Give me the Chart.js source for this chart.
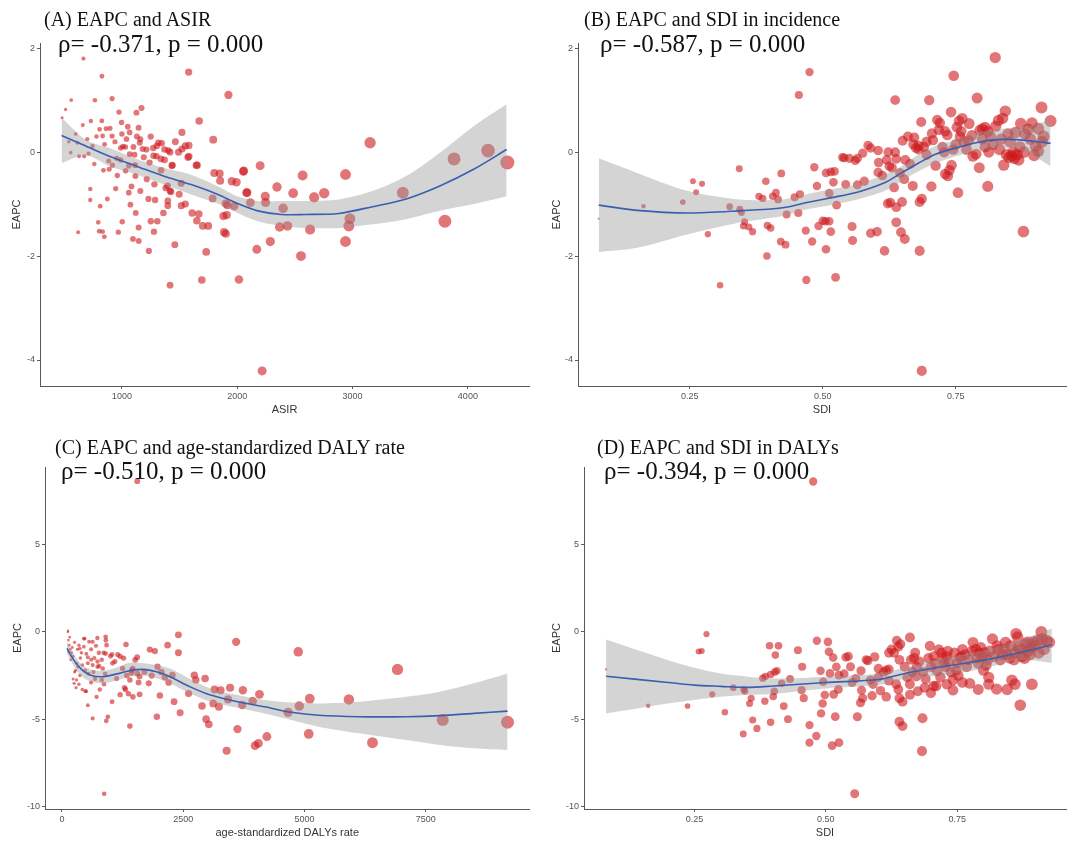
<!DOCTYPE html>
<html>
<head>
<meta charset="utf-8">
<script src="https://cdn.jsdelivr.net/npm/chart.js@4.4.1/dist/chart.umd.min.js"></script>
<style>
  body { margin: 0; background: #fff; }
  #wrap { position: relative; width: 1072px; height: 841px; overflow: hidden; background: #fff; }
  canvas { position: absolute; }
  .ttl { position: absolute; font-family: "Liberation Serif", "Times New Roman", serif; color: #111; line-height: 1; white-space: nowrap; }
  .t1 { font-size: 20px; }
  .t2 { font-size: 25px; }
</style>
</head>
<body>
<div id="wrap">
  <canvas id="chartA" width="536" height="420" style="left:0;top:0"></canvas>
  <canvas id="chartB" width="536" height="420" style="left:536px;top:0"></canvas>
  <canvas id="chartC" width="536" height="421" style="left:0;top:420px"></canvas>
  <canvas id="chartD" width="536" height="421" style="left:536px;top:420px"></canvas>

  <div class="ttl t1" style="left:44px;top:9px">(A) EAPC and ASIR</div>
  <div class="ttl t2" style="left:58px;top:31px">ρ= -0.371, p = 0.000</div>
  <div class="ttl t1" style="left:584px;top:9px">(B) EAPC and SDI in incidence</div>
  <div class="ttl t2" style="left:600px;top:31px">ρ= -0.587, p = 0.000</div>
  <div class="ttl t1" style="left:55px;top:437px">(C) EAPC and age-standardized DALY rate</div>
  <div class="ttl t2" style="left:61px;top:458px">ρ= -0.510, p = 0.000</div>
  <div class="ttl t1" style="left:597px;top:437px">(D) EAPC and SDI in DALYs</div>
  <div class="ttl t2" style="left:604px;top:458px">ρ= -0.394, p = 0.000</div>
</div>

<script>
// ---- (A) EAPC vs ASIR ----
const asirX = [667,827,1579,561,766,915,1924,512,1170,975,1126,1670,731,661,826,997,1051,897,863,807,
  1145,1521,1067,1160,1180,1009,990,1030,1302,1345,1402,1464,1521,1581,1792,1316,1272,1213,1155,3152,
  4175,4342,3880,2939,2567,2199,2053,1801,1852,1848,1994,1953,1646,1573,1550,1491,1418,1433,1274,1300,
  1339,1370,1438,1581,1652,1068,1110,955,990,1060,1115,886,918,890,761,840,1032,1117,1216,1282,
  1396,1425,1515,1497,1380,1418,2057,2085,2114,726,726,874,812,946,1083,1060,1074,1288,1398,1398,
  1515,1550,1609,1667,1650,1701,1749,1787,1909,1880,1901,1915,1974,1886,1901,621,795,803,833,848,
  969,1003,1120,1145,1096,1146,1251,1278,1234,1307,1459,1418,1731,1693,2015,2082,2170,2243,2246,2287,
  2216,2345,2398,2368,2436,2485,2553,2632,2667,2754,2977,2968,2939,3436,3801,482,556,614,629,673,
  711,746,833,915,1360,780,850,940,1000,1040,1100,1130,1190,1240,1250,1340,1370,960,1160,1230,
  700,600,540];
const asirEapc = [1.80,1.46,1.54,1.00,1.00,1.03,1.10,0.82,0.85,0.77,0.76,0.60,0.60,0.52,0.60,0.57,0.49,0.46,0.45,0.44,
  0.47,0.38,0.38,0.25,0.06,0.11,0.08,0.10,0.12,0.17,0.03,0.20,0.06,0.13,0.24,0.18,0.08,0.05,0.18,0.18,
  0.03,-0.20,-0.13,-0.43,-0.45,-0.26,-0.37,-0.40,-0.55,-0.41,-0.58,-0.56,-0.25,-0.10,0.12,0.00,0.00,-0.26,-0.07,-0.08,
  -0.13,-0.15,-0.25,-0.08,-0.25,-0.04,-0.05,-0.12,-0.15,-0.26,-0.25,-0.17,-0.25,-0.33,-0.23,-0.35,-0.36,-0.46,-0.52,-0.62,
  -0.65,-0.76,-0.60,-0.81,-0.69,-0.75,-0.36,-0.78,-0.97,-0.71,-0.92,-0.90,-1.04,-0.70,-0.66,-0.78,-1.01,-0.92,-0.94,-1.03,
  -1.03,-1.00,-1.17,-1.19,-1.32,-1.42,-1.42,-0.89,-1.21,-1.23,-0.99,-1.02,-1.04,-1.54,-1.57,-1.54,-1.35,-1.52,-1.53,-1.63,
  -1.54,-1.34,-1.17,-1.45,-1.67,-1.71,-1.33,-1.53,-1.90,-1.33,-1.78,-2.56,-1.92,-2.46,-2.45,-0.78,-1.87,-0.85,-0.97,-1.72,
  -4.21,-0.67,-1.08,-1.44,-1.42,-0.79,-2.00,-1.49,-0.87,-0.79,-1.28,-1.42,-1.72,-0.78,-1.33,0.66,-0.01,0.18,-0.08,-0.08,
  -0.03,0.12,0.31,0.31,-1.17,0.30,0.15,0.20,0.35,0.25,0.10,0.30,-0.10,-0.20,0.30,-0.35,0.05,-0.45,-0.75,-0.90,
  0.25,0.35,0.20];
const asirFitX = [477,687,892,1126,1360,1594,1827,2003,2178,2383,2588,2880,3173,3465,3757,4050,4336];
const asirFit  = [0.32,0.12,-0.08,-0.27,-0.46,-0.62,-0.81,-0.99,-1.13,-1.20,-1.20,-1.18,-1.05,-0.90,-0.65,-0.33,0.05];
const asirLow  = [-0.21,-0.06,-0.27,-0.43,-0.62,-0.81,-0.99,-1.17,-1.33,-1.42,-1.46,-1.46,-1.39,-1.29,-1.13,-1.00,-0.85];
const asirHigh = [0.66,0.24,0.08,-0.13,-0.30,-0.43,-0.65,-0.85,-0.94,-0.94,-0.94,-0.91,-0.75,-0.46,-0.01,0.50,0.92];

// ---- (B) EAPC vs SDI, incidence ----
const sdiIncX = [0.079,0.163,0.237,0.256,0.262,0.273,0.284,0.307,0.325,0.343,0.344,0.347,0.353,0.351,0.361,0.368,0.380,0.387,0.393,0.396,
  0.402,0.395,0.406,0.412,0.416,0.422,0.421,0.430,0.432,0.447,0.457,0.455,0.454,0.468,0.469,0.475,0.480,0.484,0.489,0.492,
  0.500,0.505,0.512,0.506,0.506,0.515,0.522,0.512,0.515,0.520,0.524,0.526,0.537,0.543,0.540,0.555,0.556,0.561,0.565,0.565,
  0.578,0.585,0.590,0.604,0.605,0.604,0.602,0.616,0.622,0.627,0.623,0.625,0.630,0.636,0.638,0.638,0.634,0.638,0.647,0.654,
  0.649,0.650,0.653,0.636,0.664,0.669,0.670,0.675,0.680,0.685,0.682,0.686,0.682,0.686,0.690,0.695,0.700,0.704,0.707,0.712,
  0.718,0.720,0.728,0.730,0.735,0.734,0.741,0.742,0.746,0.750,0.754,0.756,0.760,0.765,0.770,0.774,0.782,0.788,0.790,0.794,
  0.800,0.805,0.810,0.810,0.812,0.820,0.824,0.830,0.835,0.840,0.843,0.845,0.850,0.855,0.860,0.862,0.865,0.870,0.877,0.880,
  0.886,0.893,0.900,0.905,0.911,0.915,0.928,
  0.660,0.672,0.680,0.695,0.705,0.715,0.725,0.730,0.738,0.745,0.752,0.758,0.762,0.775,0.780,0.795,0.800,0.805,0.815,0.825,
  0.832,0.838,0.848,0.852,0.858,0.868,0.872,0.878,0.890,0.897,0.905,0.912,0.620,0.612,0.645,0.655,0.590,0.575,0.550];
const sdiIncEapc = [-1.28,-1.04,-0.96,-0.56,-0.77,-0.61,-1.58,-2.56,-1.05,-0.32,-1.10,-1.16,-1.34,-1.42,-1.44,-1.53,-0.85,-0.89,-0.56,-1.41,
  -1.46,-2.00,-0.85,-0.78,-0.91,-0.41,-1.72,-1.78,-1.20,-0.87,-0.81,1.10,-1.17,-1.51,-2.46,1.54,-1.72,-0.29,-0.65,-1.42,
  -1.32,-1.33,-1.33,-1.87,-0.40,-0.38,-0.37,-0.79,-1.53,-0.58,-2.41,-1.02,-0.10,-0.62,-0.11,-1.43,-1.70,-0.16,-0.12,-0.63,
  -0.56,0.13,-1.56,-0.39,-0.20,0.03,-1.53,-1.90,-0.99,-0.97,0.00,-0.27,-0.30,0.00,-0.13,-1.06,-0.68,-1.35,-1.54,-1.67,
  -0.96,0.22,-0.52,1.00,-0.23,-0.65,0.15,0.08,0.12,0.58,-0.96,-0.90,-1.90,-4.21,0.10,0.20,1.00,-0.66,0.23,-0.26,
  0.43,0.56,0.00,-0.42,-0.46,0.33,0.77,-0.25,1.47,0.15,-0.78,0.60,0.40,0.20,0.05,0.22,-0.08,-0.04,1.04,-0.30,
  0.45,0.48,0.40,-0.66,0.00,0.15,1.82,0.61,0.25,-0.25,0.79,-0.05,-0.10,-0.07,-0.12,0.38,-0.05,0.10,-1.53,0.35,
  0.44,0.56,0.11,0.02,0.86,0.30,0.60,
  0.30,0.28,0.05,-0.05,0.36,0.62,0.10,0.40,-0.35,0.05,0.48,0.30,0.65,0.55,0.32,0.42,0.25,0.10,0.30,0.50,
  0.05,0.65,0.35,0.20,0.00,-0.15,0.55,0.00,0.25,-0.06,0.45,0.20,-0.15,-0.45,-0.40,-0.15,0.08,-0.02,-0.12];
const sdiIncFitX = [0.079,0.151,0.247,0.342,0.425,0.470,0.514,0.565,0.616,0.648,0.680,0.712,0.750,0.788,0.826,0.865,0.896,0.928];
const sdiIncFit  = [-1.02,-1.12,-1.17,-1.13,-1.07,-0.97,-0.88,-0.77,-0.59,-0.40,-0.21,-0.04,0.08,0.18,0.24,0.24,0.21,0.17];
const sdiIncLow  = [-1.92,-1.84,-1.58,-1.36,-1.23,-1.10,-1.02,-0.91,-0.75,-0.56,-0.37,-0.21,-0.08,0.02,0.08,0.05,-0.08,-0.27];
const sdiIncHigh = [-0.12,-0.40,-0.75,-0.91,-0.91,-0.81,-0.72,-0.62,-0.43,-0.27,-0.04,0.12,0.24,0.37,0.44,0.47,0.53,0.63];

// ---- (C) EAPC vs age-standardized DALYs rate ----
const dalyX = [1552,870,125,120,133,150,170,140,200,230,180,300,330,280,370,300,250,290,450,467,
  560,633,730,905,400,500,533,600,667,350,370,450,533,633,733,840,733,767,480,500,
  533,633,913,947,713,780,820,867,1033,890,900,860,900,920,1000,1030,1090,1044,1127,1200,
  1270,1320,1440,1460,1430,1333,1400,1290,1310,1200,1370,1400,1462,1510,1550,1552,1601,1580,1600,1789,
  1810,1914,1970,2050,1956,2018,2123,2178,2311,2276,2401,2401,2436,2610,2728,2760,2888,2951,2972,3028,
  3118,3146,3236,3271,3396,3424,3466,3591,3619,3716,3730,3932,3981,4051,4072,4225,4663,4872,4893,5088,
  5109,5916,6403,6918,7851,9187,
  160,210,260,320,380,420,480,550,600,650,700,760,820,230,260,350,420,600,680,1150,1250,1700,1850,2200];
const dalyEapc = [8.64,-9.28,0.06,0.00,-0.47,-0.76,-1.00,-1.14,-1.20,-1.40,-1.60,-1.80,-2.00,-2.20,-2.50,-2.75,-2.95,-3.20,-0.38,-0.38,
  -0.57,-0.57,-0.35,-0.48,-1.20,-1.25,-1.45,-1.60,-1.50,-0.76,-0.95,-0.85,-1.80,-1.90,-1.70,-2.10,-2.00,-1.95,-3.40,-3.40,
  -4.20,-4.96,-5.10,-4.87,-3.72,-3.30,-2.76,-3.00,-4.00,-2.40,-1.24,-1.20,-0.28,-0.76,-1.40,-1.30,-1.70,-1.80,-2.67,-1.40,
  -1.50,-0.72,-2.20,-2.10,-2.35,-2.50,-2.76,-3.20,-3.30,-3.60,-3.55,-5.40,-3.72,-1.60,-1.45,-2.38,-3.58,-2.90,-2.55,-2.95,
  -1.01,-1.10,-2.00,-2.30,-4.86,-3.64,-2.60,-0.76,-4.00,-2.48,-0.17,-1.20,-4.63,-3.53,-2.48,-2.75,-4.25,-2.67,-5.00,-5.30,
  -4.10,-3.30,-4.29,-3.34,-6.81,-3.87,-3.20,-0.57,-5.57,-4.19,-3.34,-3.96,-6.52,-6.39,-3.58,-6.00,-4.61,-1.14,-4.25,-5.85,
  -3.83,-3.87,-6.35,-2.15,-5.05,-5.18,
  -0.30,-0.90,-0.60,-1.00,-1.50,-1.90,-2.20,-2.40,-1.00,-2.30,-0.80,-1.20,-1.60,-2.70,-2.30,-3.00,-3.30,-2.90,-2.70,-1.30,-2.10,-2.30,-2.50,-2.90];
const dalyFitX = [104,244,418,592,835,1114,1392,1670,1949,2227,2645,3062,3619,4176,4733,5290,6125,7099,7795,8491,9187];
const dalyFit  = [-0.95,-1.62,-2.19,-2.48,-2.57,-2.42,-2.23,-2.15,-2.29,-2.57,-3.15,-3.62,-4.00,-4.29,-4.61,-4.78,-4.86,-4.86,-4.80,-4.67,-4.54];
const dalyLow  = [-1.24,-1.95,-2.57,-2.85,-2.95,-2.80,-2.57,-2.50,-2.65,-2.95,-3.55,-4.00,-4.35,-4.67,-5.05,-5.43,-5.81,-6.20,-6.48,-6.67,-6.77];
const dalyHigh = [-0.55,-1.30,-1.90,-2.15,-2.23,-2.05,-1.77,-1.80,-1.90,-2.10,-2.70,-3.24,-3.62,-3.90,-4.05,-4.10,-4.00,-3.72,-3.43,-2.95,-2.38];

// ---- (D) EAPC vs SDI, DALYs ----
const sdiDalyX = [0.476,0.555,0.082,0.162,0.237,0.258,0.264,0.273,0.284,0.308,0.324,0.344,0.346,0.343,0.355,0.358,0.361,0.369,0.380,0.385,
  0.384,0.393,0.395,0.395,0.400,0.402,0.403,0.404,0.407,0.410,0.416,0.420,0.428,0.432,0.447,0.455,0.458,0.454,0.469,0.469,
  0.482,0.483,0.490,0.491,0.495,0.494,0.498,0.504,0.506,0.508,0.512,0.514,0.515,0.518,0.525,0.525,0.524,0.538,0.543,0.547,
  0.557,0.560,0.566,0.567,0.568,0.577,0.580,0.585,0.588,0.593,0.600,0.604,0.610,0.615,0.620,0.615,0.620,0.625,0.630,0.635,
  0.638,0.642,0.634,0.638,0.640,0.646,0.640,0.646,0.660,0.662,0.668,0.665,0.672,0.673,0.675,0.688,0.683,0.684,0.698,0.705,
  0.708,0.712,0.705,0.710,0.720,0.725,0.730,0.735,0.742,0.742,0.748,0.755,0.760,0.765,0.774,0.780,0.785,0.792,0.798,0.790,
  0.800,0.805,0.810,0.817,0.825,0.828,0.836,0.842,0.850,0.854,0.860,0.862,0.866,0.870,0.873,0.880,0.885,0.890,0.895,0.903,
  0.910,0.920,0.915,
  0.640,0.650,0.655,0.660,0.670,0.678,0.685,0.690,0.695,0.700,0.715,0.718,0.722,0.728,0.732,0.738,0.745,0.750,0.752,0.758,
  0.768,0.772,0.778,0.788,0.795,0.802,0.808,0.812,0.820,0.826,0.832,0.840,0.845,0.852,0.858,0.865,0.870,0.878,0.884,0.888,
  0.892,0.898,0.905,0.912,0.925,0.860,0.845,0.810,0.790,0.760,0.730,0.700,0.660,0.620,0.600,0.590,0.570,0.550,0.535,0.520];
const sdiDalyEapc = [8.62,-9.28,-2.15,-4.23,-4.25,-1.12,-1.10,-0.13,-3.58,-4.60,-3.20,-3.30,-3.40,-5.85,-4.10,-3.80,-5.05,-5.53,-2.65,-2.55,
  -3.97,-0.80,-2.44,-5.18,-3.70,-3.40,-2.30,-1.33,-2.23,-0.80,-2.95,-4.25,-5.00,-2.70,-1.05,-2.00,-3.80,-3.34,-5.34,-6.35,
  -5.97,-0.51,-2.23,-4.67,-2.86,-4.10,-3.62,-0.57,-1.14,-2.38,-6.52,-1.47,-3.58,-4.86,-6.35,-2.48,-3.30,-1.45,-1.40,-2.00,
  -2.67,-4.86,-4.06,-2.23,-3.34,-1.60,-1.65,-2.76,-3.66,-1.43,-2.10,-3.37,-2.30,-2.20,-2.15,-3.72,-1.20,-1.00,-1.20,-0.50,
  -0.85,-0.70,-3.00,-3.30,-3.80,-4.00,-5.15,-5.40,-0.32,-1.60,-1.50,-2.30,-2.55,-2.00,-3.40,-3.20,-6.83,-4.95,-0.80,-1.40,
  -1.80,-2.25,-3.10,-3.10,-1.20,-1.80,-1.40,-1.70,-2.75,-3.34,-2.20,-1.50,-1.00,-1.30,-2.95,-0.60,-1.00,-1.20,-1.40,-1.80,
  -2.20,-1.90,-2.60,-0.40,-3.28,-1.00,-1.30,-0.60,-1.50,-2.77,-1.20,-0.10,-0.90,-4.20,-1.40,-0.70,-1.10,-0.90,-0.60,-0.50,
  0.00,-0.50,-1.00,
  -1.60,-2.00,-2.60,-3.00,-1.20,-1.70,-2.30,-2.70,-1.50,-2.00,-1.00,-2.60,-1.50,-2.00,-1.10,-2.30,-1.20,-1.80,-2.50,-1.40,
  -2.00,-1.60,-1.10,-1.50,-0.90,-1.20,-1.60,-1.10,-1.40,-0.80,-1.60,-1.00,-1.30,-0.80,-1.60,-0.30,-1.00,-1.50,-0.60,-1.30,
  -3.00,-0.80,-1.20,-0.40,-0.60,-3.00,-3.30,-3.00,-3.30,-2.90,-3.00,-3.50,-3.60,-2.80,-2.60,-3.00,-3.80,-2.90,-2.40,-2.00];
const sdiDalyFitX = [0.082,0.20,0.25,0.30,0.35,0.40,0.50,0.60,0.65,0.72,0.80,0.87,0.93];
const sdiDalyFit  = [-2.54,-2.90,-3.05,-3.12,-3.18,-3.10,-2.90,-2.73,-2.38,-2.00,-1.62,-1.18,-0.74];
const sdiDalyLow  = [-4.67,-4.10,-3.90,-3.72,-3.62,-3.56,-3.24,-3.05,-2.70,-2.50,-2.10,-1.60,-1.77];
const sdiDalyHigh = [-0.44,-1.62,-2.05,-2.38,-2.55,-2.67,-2.57,-2.38,-2.05,-1.52,-1.05,-0.45,0.19];

// tick values
const asirTicks = [1000, 2000, 3000, 4000];
const sdiTicks = [0.25, 0.5, 0.75];
const dalyTicks = [0, 2500, 5000, 7500];
const eapcTicksTop = [-4, -2, 0, 2];
const eapcTicksBottom = [-10, -5, 0, 5];

// Función para juntar dos listas en puntos {x, y}
function toPoints(xs, ys) {
    return xs.map((x, i) => ({ x: x, y: ys[i] }));
}

// Tamaño del punto según el valor de x (como scale_size de ggplot)
function radiusFor(x, p) {
    let t = (x - p.sizeFrom) / (p.sizeTo - p.sizeFrom);
    t = Math.max(0, Math.min(1, t));
    return p.rMin + (p.rMax - p.rMin) * Math.pow(t, p.sizePow);
}

function makePanel(p) {
    const axisColor = '#5a5a5a';
    const tickFont = { family: '"Liberation Sans", Arial, sans-serif', size: 9 };
    const titleFont = { family: '"Liberation Sans", Arial, sans-serif', size: 11 };

    new Chart(document.getElementById(p.id), {
        type: 'scatter',
        data: {
            datasets: [
                {
                    data: toPoints(p.xs, p.ys),
                    backgroundColor: 'rgba(205, 25, 28, 0.6)',
                    borderWidth: 0,
                    pointRadius: ctx => radiusFor(ctx.raw.x, p),
                    order: 3
                },
                {
                    type: 'line',
                    data: toPoints(p.fitX, p.high),
                    borderWidth: 0,
                    pointRadius: 0,
                    tension: 0.3,
                    fill: '+1',
                    backgroundColor: 'rgba(153, 153, 153, 0.42)',
                    order: 2
                },
                {
                    type: 'line',
                    data: toPoints(p.fitX, p.low),
                    borderWidth: 0,
                    pointRadius: 0,
                    tension: 0.3,
                    fill: false,
                    order: 2
                },
                {
                    type: 'line',
                    data: toPoints(p.fitX, p.fit),
                    borderColor: '#3a5fb0',
                    borderWidth: 1.6,
                    pointRadius: 0,
                    tension: 0.3,
                    fill: false,
                    order: 1
                }
            ]
        },
        options: {
            responsive: false,
            animation: false,
            layout: { padding: p.pad },
            plugins: { legend: { display: false }, tooltip: { enabled: false } },
            scales: {
                x: {
                    type: 'linear',
                    min: p.xMin,
                    max: p.xMax,
                    afterBuildTicks: axis => { axis.ticks = p.xTicks.map(v => ({ value: v })); },
                    afterFit: s => { s.height = p.xAxisH; },
                    ticks: { color: '#555', font: tickFont, padding: 2, maxRotation: 0,
                             callback: v => p.xFmt(v) },
                    grid: { drawOnChartArea: false, tickLength: 3, color: axisColor },
                    border: { color: axisColor, width: 1 },
                    title: { display: true, text: p.xTitle, color: '#333', font: titleFont,
                             padding: { top: 0, bottom: p.xTitlePad } }
                },
                y: {
                    type: 'linear',
                    min: p.yMin,
                    max: p.yMax,
                    afterBuildTicks: axis => { axis.ticks = p.yTicks.map(v => ({ value: v })); },
                    afterFit: s => { s.width = p.yAxisW; },
                    ticks: { color: '#555', font: tickFont, padding: 2, callback: v => String(v) },
                    grid: { drawOnChartArea: false, tickLength: 3, color: axisColor },
                    border: { color: axisColor, width: 1 },
                    title: { display: true, text: 'EAPC', color: '#333', font: titleFont,
                             padding: { top: p.yTitlePad, bottom: 0 } }
                }
            }
        }
    });
}

document.addEventListener('DOMContentLoaded', function () {
    const fmtInt = v => String(v);
    const fmt2 = v => v.toFixed(2);

    makePanel({ id: 'chartA', xs: asirX, ys: asirEapc, fitX: asirFitX, fit: asirFit, low: asirLow, high: asirHigh,
        xMin: 290, xMax: 4530, yMin: -4.5, yMax: 2.1, xTicks: asirTicks, yTicks: eapcTicksTop, xFmt: fmtInt,
        xTitle: 'ASIR', pad: { top: 43, right: 1, left: 0, bottom: 0 }, yAxisW: 40, xAxisH: 34,
        xTitlePad: 3, yTitlePad: 10, sizeFrom: 480, sizeTo: 4342, rMin: 1.5, rMax: 7, sizePow: 0.75 });

    makePanel({ id: 'chartB', xs: sdiIncX, ys: sdiIncEapc, fitX: sdiIncFitX, fit: sdiIncFit, low: sdiIncLow, high: sdiIncHigh,
        xMin: 0.04, xMax: 0.957, yMin: -4.5, yMax: 2.1, xTicks: sdiTicks, yTicks: eapcTicksTop, xFmt: fmt2,
        xTitle: 'SDI', pad: { top: 43, right: 2, left: 0, bottom: 0 }, yAxisW: 42, xAxisH: 34,
        xTitlePad: 3, yTitlePad: 14, sizeFrom: 0.08, sizeTo: 0.93, rMin: 1.0, rMax: 6.0, sizePow: 0.6 });

    makePanel({ id: 'chartC', xs: dalyX, ys: dalyEapc, fitX: dalyFitX, fit: dalyFit, low: dalyLow, high: dalyHigh,
        xMin: -350, xMax: 9640, yMin: -10.15, yMax: 9.45, xTicks: dalyTicks, yTicks: eapcTicksBottom, xFmt: fmtInt,
        xTitle: 'age-standardized DALYs rate', pad: { top: 47, right: 1, left: 0, bottom: 0 }, yAxisW: 45, xAxisH: 32,
        xTitlePad: 1, yTitlePad: 11, sizeFrom: 100, sizeTo: 9187, rMin: 1.1, rMax: 6.5, sizePow: 0.6 });

    makePanel({ id: 'chartD', xs: sdiDalyX, ys: sdiDalyEapc, fitX: sdiDalyFitX, fit: sdiDalyFit, low: sdiDalyLow, high: sdiDalyHigh,
        xMin: 0.04, xMax: 0.957, yMin: -10.15, yMax: 9.45, xTicks: sdiTicks, yTicks: eapcTicksBottom, xFmt: fmt2,
        xTitle: 'SDI', pad: { top: 47, right: 2, left: 0, bottom: 0 }, yAxisW: 48, xAxisH: 32,
        xTitlePad: 1, yTitlePad: 14, sizeFrom: 0.08, sizeTo: 0.93, rMin: 1.0, rMax: 6.0, sizePow: 0.6 });
});
</script>
</body>
</html>
